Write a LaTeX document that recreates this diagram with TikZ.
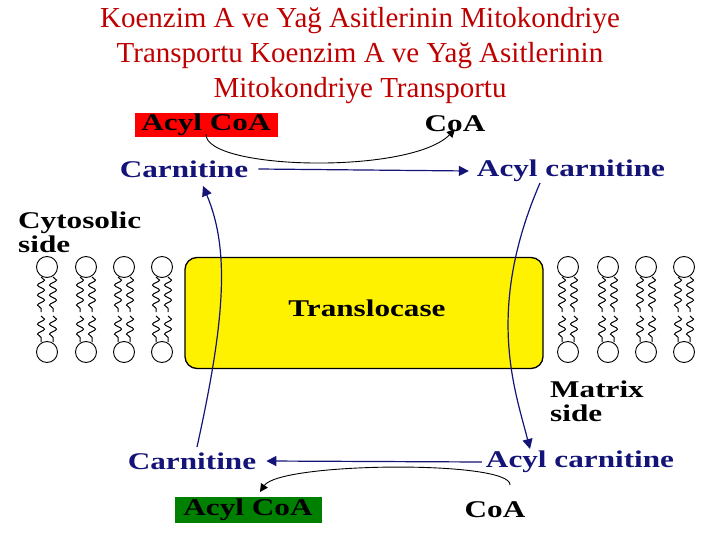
\documentclass[tikz,border=0pt]{standalone}
\usepackage{fontspec}
\setmainfont{Liberation Serif}
\usetikzlibrary{decorations.pathmorphing,arrows.meta}
\definecolor{navy}{RGB}{20,20,120}
\definecolor{ttl}{RGB}{190,0,0}
\newcommand{\W}[1]{\scalebox{1.3}[1]{#1}}
\begin{document}
\begin{tikzpicture}[x=1pt,y=-1pt,
 lbl/.style={font=\bfseries\fontsize{24}{24}\selectfont,inner sep=0pt},
 blue/.style={lbl,text=navy},
 flow/.style={navy,line width=1.2pt,-{Triangle[length=10pt,width=10pt]}},
 tail/.style={decorate,decoration={snake,segment length=10pt,amplitude=3.5pt},line width=1pt},
 title/.style={text=ttl,font=\fontsize{29}{35}\selectfont,align=center}]
\useasboundingbox (0,0) rectangle (720,540);
\node[title] (t) at (360,56) {Koenzim A ve Yağ Asitlerinin Mitokondriye\\Transportu Koenzim A ve Yağ Asitlerinin\\Mitokondriye Transportu};
% membrane lipids
\foreach \x in {47,86,124,162,568,608,646,684}{
  \draw[line width=0.9pt] (\x,267) circle (10.5);
  \draw[line width=0.9pt] (\x,352) circle (10.5);
  \foreach \d in {-6,6}{
    \draw[tail] (\x+\d,277) -- (\x+\d,312);
    \draw[tail] (\x+\d,316) -- (\x+\d,342);}
}
\node[draw=black,line width=1.3pt,fill=yellow,rounded corners=12pt,minimum width=358pt,minimum height=111pt] (tl) at (364,313) {};
\node[lbl] (tr) at (367,308) {\W{Translocase}};
\node[lbl,fill=red,minimum width=143pt,minimum height=24pt] (ac1) at (206,125) {\W{Acyl CoA}};
\node[lbl] (coa1) at (455,124) {\W{CoA}};
\node[blue] (c1) at (184,169) {\W{Carnitine}};
\node[blue] (a1) at (571,171) {\W{Acyl carnitine}};
\node[lbl,align=left,anchor=west] (cs) at (18,232) {\W{Cytosolic}\\\W{side}};
\node[lbl,align=left,anchor=west] (ms) at (550,401) {\W{Matrix}\\\W{side}};
\node[blue] (c2) at (192,461) {\W{Carnitine}};
\node[blue] (a2) at (580,462) {\W{Acyl carnitine}};
\node[lbl,fill=green!50!black,minimum width=147pt,minimum height=26pt] (ac2) at (248,510) {\W{Acyl CoA}};
\node[lbl] (coa2) at (495,510) {\W{CoA}};
% top reaction
\draw[flow] ([xshift=10pt]c1.east) -- ([xshift=-8pt]a1.west);
\draw[line width=0.9pt,-{Triangle[length=8pt,width=8pt]}] ([yshift=3pt]ac1.south) .. controls (205,170) and (410,175) .. ([yshift=3pt]coa1.south);
% bottom reaction
\draw[flow] ([xshift=-4pt]a2.west) -- ([xshift=10pt]c2.east);
\draw[line width=0.9pt,-{Triangle[length=8pt,width=8pt]}] (510,485) .. controls (512,460) and (280,462) .. (260,492);
% transport
\coordinate (lb) at (197,447);
\coordinate (rt) at (540,183);
\draw[flow] (lb) .. controls (225,320) and (230,250) .. (203,186);
\draw[flow] (rt) .. controls (485,310) and (515,390) .. (530,449);
\end{tikzpicture}
\end{document}
